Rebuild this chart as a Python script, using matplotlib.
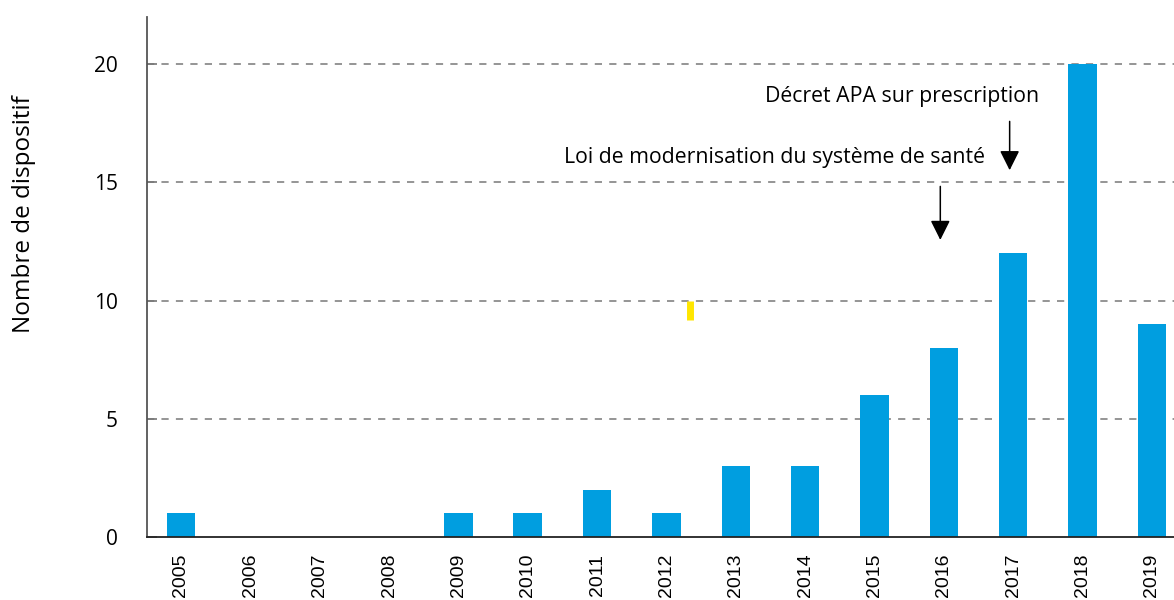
import matplotlib
matplotlib.use("Agg")
from matplotlib import pyplot as plt

years = ["2005", "2006", "2007", "2008", "2009", "2010", "2011", "2012",
         "2013", "2014", "2015", "2016", "2017", "2018", "2019"]
counts = [1, 0, 0, 0, 1, 1, 2, 1, 3, 3, 6, 8, 12, 20, 9]

# annotations: (text, text x, text y, arrow x, arrow start y, arrow tip y)
notes = [
    ("Loi de modernisation du système de santé", 8.56, 16.05, 11, 14.95, 12.45),
    ("Décret APA sur prescription", 10.4, 18.65, 12, 17.7, 15.4),
]
# small yellow tick left on the chart
stray_x = 7.34
stray_y = (9.2, 10.0)

def main():
  fig = plt.figure(figsize=(11.74, 6.0), dpi=100)
  ax = fig.add_axes([0.1252, 0.105, 0.8748, 0.8667])
  x = list(range(len(years)))
  ax.bar(x, counts, width=0.41, color="#009ee0", zorder=2)

  ax.set_ylim(0, 22)
  ax.set_xlim(-0.49, 14.32)
  ax.set_yticks([0, 5, 10, 15, 20])
  ax.set_xticks(x)
  ax.set_xticklabels(years, rotation=90, fontsize=14, family="Liberation Sans")
  for lab in ax.get_yticklabels():
    lab.set_fontsize(15)
    lab.set_family("Open Sans")
  ax.tick_params(axis="x", length=0, pad=12)
  ax.tick_params(axis="y", direction="in", length=7, width=1.2, color="#777777", pad=21)

  for v in [5, 10, 15, 20]:
    ax.axhline(v, color="#8c8c8c", lw=1.3, ls=(0, (4, 4)), zorder=1)

  for s in ["top", "right"]:
    ax.spines[s].set_visible(False)
  ax.spines["left"].set_color("#555555")
  ax.spines["left"].set_linewidth(1.3)
  ax.spines["bottom"].set_color("#222222")
  ax.spines["bottom"].set_linewidth(1.3)

  ax.set_ylabel("Nombre de dispositif", fontsize=17.5, family="Open Sans")
  ax.yaxis.set_label_coords(-0.108, 0.62)

  for txt, tx, ty, axx, y0, y1 in notes:
    ax.text(tx, ty, txt, ha="center", va="center", fontsize=15.3, family="Open Sans")
    ax.annotate("", xy=(axx - 0.05, y1), xytext=(axx - 0.05, y0),
                arrowprops=dict(arrowstyle="-|>", color="black", lw=1.1,
                                mutation_scale=30))

  ax.plot([stray_x, stray_x], stray_y, color="#ffe600", lw=5, solid_capstyle="butt", zorder=3)

  fig.savefig("out.png", dpi=100)

if __name__ == "__main__":
  main()
